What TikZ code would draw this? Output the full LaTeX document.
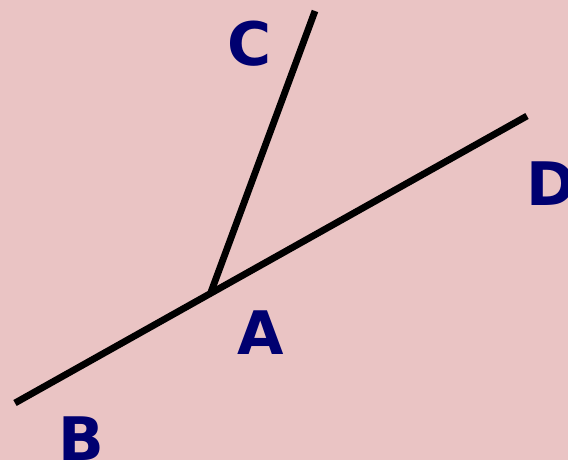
\documentclass[tikz,border=0pt]{standalone}
\usepackage{fontspec}
\setmainfont{DejaVu Sans}
\usepackage{tikz}
\usetikzlibrary{positioning, calc}

\definecolor{bgpink}{RGB}{234,196,196}
\definecolor{labelblue}{RGB}{0,0,112}

\begin{document}
\begin{tikzpicture}[
    x=0.5pt, y=-0.5pt,
    ray/.style={line width=3.4pt, black},
    lbl/.style={text=labelblue, font=\fontsize{30}{36}\selectfont\bfseries, inner sep=0pt}
]
    % background
    \fill[bgpink] (0,0) rectangle (568,460);
    \useasboundingbox (0,0) rectangle (568,460);

    % points
    \coordinate (A) at (211,292);
    \coordinate (B) at (15,403);
    \coordinate (C) at (315,11);
    \coordinate (D) at (527,116);

    % lines
    \draw[ray] (B) -- (D);
    \draw[ray] (A) -- (C);

    % labels
    \node[lbl] (labA) at (261,333) {A};
    \node[lbl] (labB) at (81,439) {B};
    \node[lbl] (labC) at (250,44) {C};
    \node[lbl] (labD) at (551,184) {D};
\end{tikzpicture}
\end{document}
